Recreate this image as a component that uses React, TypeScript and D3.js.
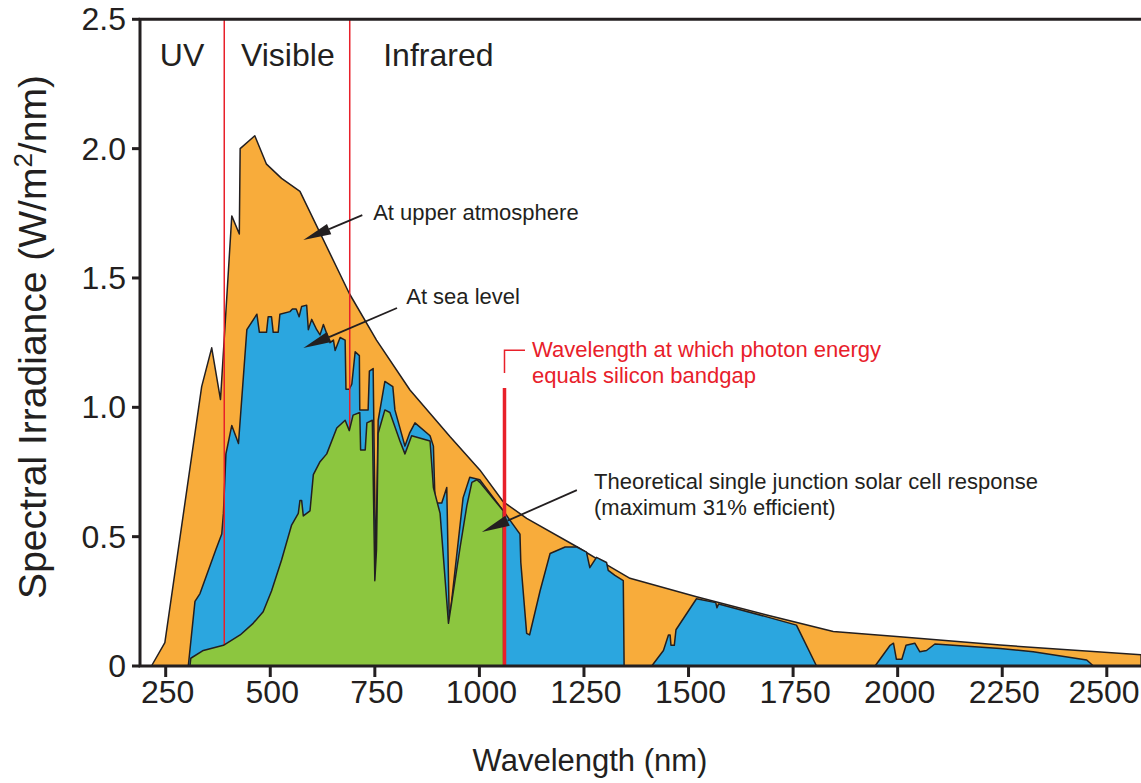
import { useEffect, useRef } from 'react';
import * as d3 from 'd3';

// wavelength (nm), spectral irradiance (W/m2/nm)
const upperAtmosphere: [number, number][] = [
    [216, 0], [248, 0.09], [336, 1.08], [360, 1.23], [381, 1.03], [408, 1.74], [426, 1.67],
    [428, 2.0], [463, 2.05], [491, 1.94], [527, 1.885], [571, 1.835], [689, 1.44], [754, 1.26],
    [834, 1.067], [930, 0.886], [1001, 0.758], [1057, 0.635], [1113, 0.571], [1233, 0.461],
    [1312, 0.384], [1360, 0.339], [1519, 0.268], [1687, 0.197], [1846, 0.133], [2005, 0.113],
    [2245, 0.081], [2582, 0.043],
];

const seaLevel: [number, number][] = [
    [304, 0], [320, 0.25], [332, 0.28], [370, 0.45], [384, 0.51], [388, 0.59], [394, 0.82],
    [408, 0.93], [424, 0.86], [444, 1.3], [468, 1.36], [474, 1.29], [491, 1.29], [495, 1.35],
    [503, 1.35], [507, 1.29], [519, 1.29], [523, 1.36], [547, 1.37], [553, 1.38], [562, 1.38],
    [569, 1.35], [575, 1.39], [587, 1.395], [591, 1.3], [599, 1.34], [611, 1.3], [619, 1.28],
    [627, 1.32], [643, 1.25], [651, 1.26], [655, 1.22], [667, 1.27], [679, 1.26], [681, 1.07],
    [689, 1.07], [695, 1.09], [703, 1.215], [713, 1.2], [714, 0.99], [734, 0.99], [737, 1.14],
    [746, 1.15], [752, 0.36], [758, 0.95], [774, 1.1], [793, 1.08], [798, 0.99], [822, 0.85],
    [833, 0.9], [846, 0.94], [882, 0.89], [890, 0.85], [894, 0.63], [910, 0.63], [922, 0.69],
    [928, 0.17], [961, 0.65], [977, 0.73], [1001, 0.72], [1057, 0.6], [1097, 0.51], [1099, 0.4],
    [1113, 0.126], [1120, 0.12], [1145, 0.29], [1169, 0.435], [1205, 0.46], [1233, 0.46],
    [1256, 0.44], [1264, 0.38], [1280, 0.42], [1304, 0.4], [1308, 0.37], [1324, 0.35],
    [1344, 0.33], [1346, 0], [1412, 0], [1440, 0.06], [1452, 0.12], [1456, 0.12], [1458, 0.08],
    [1466, 0.08], [1470, 0.14], [1519, 0.26], [1565, 0.245], [1568, 0.225], [1572, 0.24],
    [1687, 0.19], [1758, 0.158], [1806, 0], [1946, 0], [1982, 0.08], [1990, 0.088],
    [1997, 0.026], [2010, 0.026], [2020, 0.08], [2041, 0.088], [2053, 0.055], [2069, 0.06],
    [2089, 0.085], [2245, 0.068], [2324, 0.055], [2452, 0.023], [2468, 0],
];

const cellResponse: [number, number][] = [
    [308, 0], [310, 0.03], [340, 0.06], [388, 0.08], [428, 0.12], [459, 0.165], [483, 0.21],
    [503, 0.29], [527, 0.41], [551, 0.545], [567, 0.59], [571, 0.64], [575, 0.64], [579, 0.58],
    [595, 0.6], [603, 0.74], [619, 0.79], [635, 0.82], [659, 0.92], [679, 0.95], [689, 0.91],
    [698, 0.97], [714, 0.98], [716, 0.835], [727, 0.835], [731, 0.94], [744, 0.95], [750, 0.33],
    [754, 0.45], [758, 0.9], [774, 0.99], [786, 0.98], [810, 0.87], [822, 0.82], [838, 0.89],
    [882, 0.87], [890, 0.69], [906, 0.59], [926, 0.165], [954, 0.46], [970, 0.62], [982, 0.71],
    [994, 0.72], [1001, 0.71], [1057, 0.6], [1058, 0],
];

const waveTicks = [250, 500, 750, 1000, 1250, 1500, 1750, 2000, 2250, 2500];
const irrTicks = [0, 0.5, 1.0, 1.5, 2.0, 2.5];
const bandEdges = [390, 690];
const bandgap = 1060;
const regionLabels = [
    { text: 'UV', wl: 236 },
    { text: 'Visible', wl: 430 },
    { text: 'Infrared', wl: 770 },
];

const FONT = '"Liberation Sans", Arial, Helvetica, sans-serif';
const INK = '#231f20';
const RED = '#e8202a';

const SolarSpectrum = () => {
    const svgRef = useRef<SVGSVGElement>(null);

    useEffect(() => {
        if (!svgRef.current) return;
        const svg = d3.select(svgRef.current);
        svg.selectAll('*').remove();

        const width = 1141;
        const height = 783;
        const left = 140;
        const top = 19.3;
        const bottom = 666;

        svg.attr('width', width).attr('height', height);

        const x = d3.scaleLinear().domain([250, 2500]).range([165.7, 1106.8]);
        const y = d3.scaleLinear().domain([0, 2.5]).range([bottom, top]);

        const area = d3.area<[number, number]>()
            .x(d => x(d[0]))
            .y0(y(0))
            .y1(d => y(d[1]));

        const drawArea = (data: [number, number][], fill: string) => {
            svg.append('path')
                .datum(data)
                .attr('d', area)
                .attr('fill', fill)
                .attr('stroke', INK)
                .attr('stroke-width', 1.5)
                .attr('stroke-linejoin', 'round');
        };

        drawArea(upperAtmosphere, '#f8ac3b');
        drawArea(seaLevel, '#2ba6df');

        // UV / visible / IR boundaries
        svg.selectAll('.band')
            .data(bandEdges)
            .enter()
            .append('line')
            .attr('x1', d => x(d))
            .attr('x2', d => x(d))
            .attr('y1', top)
            .attr('y2', bottom)
            .attr('stroke', RED)
            .attr('stroke-width', 1.5);

        drawArea(cellResponse, '#8cc63f');

        // silicon bandgap marker
        svg.append('line')
            .attr('x1', x(bandgap)).attr('x2', x(bandgap))
            .attr('y1', y(1.075)).attr('y2', bottom)
            .attr('stroke', RED).attr('stroke-width', 3.5);
        svg.append('path')
            .attr('d', `M${x(bandgap)},${y(1.133)}V${y(1.221)}H${x(1109)}`)
            .attr('fill', 'none').attr('stroke', RED).attr('stroke-width', 1.5);

        // frame
        svg.append('path')
            .attr('d', `M${width},${top}H${left}V${bottom}H${width}`)
            .attr('fill', 'none').attr('stroke', INK).attr('stroke-width', 3);

        // x ticks
        svg.selectAll('.xt')
            .data(waveTicks)
            .enter()
            .append('line')
            .attr('x1', d => x(d)).attr('x2', d => x(d))
            .attr('y1', bottom).attr('y2', bottom + 11)
            .attr('stroke', INK).attr('stroke-width', 3);
        svg.selectAll('.xl')
            .data(waveTicks)
            .enter()
            .append('text')
            .attr('x', d => Math.min(x(d) + 2, width - 37))
            .attr('y', 703)
            .attr('text-anchor', 'middle')
            .attr('font-family', FONT)
            .attr('font-size', 32)
            .attr('fill', INK)
            .text(d => d);

        // y ticks
        svg.selectAll('.yt')
            .data(irrTicks)
            .enter()
            .append('line')
            .attr('x1', left - 8).attr('x2', left)
            .attr('y1', d => y(d)).attr('y2', d => y(d))
            .attr('stroke', INK).attr('stroke-width', 3);
        svg.selectAll('.yl')
            .data(irrTicks)
            .enter()
            .append('text')
            .attr('x', 126)
            .attr('y', d => y(d) + 11)
            .attr('text-anchor', 'end')
            .attr('font-family', FONT)
            .attr('font-size', 32)
            .attr('fill', INK)
            .text(d => (d === 0 ? '0' : d.toFixed(1)));

        // axis titles
        svg.append('text')
            .attr('x', 590).attr('y', 771)
            .attr('text-anchor', 'middle')
            .attr('font-family', FONT).attr('font-size', 31).attr('fill', INK)
            .text('Wavelength (nm)');

        const yTitle = svg.append('text')
            .attr('transform', 'translate(46,337) rotate(-90)')
            .attr('text-anchor', 'middle')
            .attr('font-family', FONT).attr('font-size', 39).attr('fill', INK);
        yTitle.append('tspan').text('Spectral Irradiance (W/m');
        yTitle.append('tspan').attr('dy', -14).attr('font-size', 26).text('2');
        yTitle.append('tspan').attr('dy', 14).text('/nm)');

        // region labels
        svg.selectAll('.region')
            .data(regionLabels)
            .enter()
            .append('text')
            .attr('x', d => x(d.wl))
            .attr('y', y(2.32))
            .attr('font-family', FONT).attr('font-size', 32).attr('fill', INK)
            .text(d => d.text);

        // annotations
        const arrow = (w1: number, v1: number, w2: number, v2: number) => {
            const x1 = x(w1), y1 = y(v1), x2 = x(w2), y2 = y(v2);
            const len = Math.hypot(x2 - x1, y2 - y1);
            const ux = (x2 - x1) / len, uy = (y2 - y1) / len;
            const hl = 28, hw = 5.5;
            const bx = x2 - ux * hl, by = y2 - uy * hl;
            svg.append('line')
                .attr('x1', x1).attr('y1', y1).attr('x2', bx).attr('y2', by)
                .attr('stroke', INK).attr('stroke-width', 1.8);
            svg.append('path')
                .attr('d', `M${x2},${y2}L${bx - uy * hw},${by + ux * hw}L${bx + uy * hw},${by - ux * hw}Z`)
                .attr('fill', INK);
        };

        const note = (wl: number, v: number, lines: string[], color: string) => {
            const t = svg.append('text')
                .attr('x', x(wl)).attr('y', y(v))
                .attr('font-family', FONT).attr('font-size', 22).attr('fill', color);
            lines.forEach((s, i) => {
                t.append('tspan').attr('x', x(wl)).attr('dy', i === 0 ? 0 : 26).text(s);
            });
        };

        note(746, 1.724, ['At upper atmosphere'], INK);
        arrow(720, 1.743, 579, 1.647);

        note(825, 1.399, ['At sea level'], INK);
        arrow(803, 1.384, 579, 1.229);

        note(1126, 1.194, ['Wavelength at which photon energy', 'equals silicon bandgap'], RED);

        note(1274, 0.684, ['Theoretical single junction solar cell response', '(maximum 31% efficient)'], INK);
        arrow(1233, 0.68, 1006, 0.518);
    }, []);

    return (
        <div style={{ position: 'absolute', left: 0, top: 0, width: 1141, height: 783, background: '#fff', overflow: 'hidden' }}>
            <svg ref={svgRef} style={{ display: 'block' }}></svg>
        </div>
    );
};

export default SolarSpectrum;
